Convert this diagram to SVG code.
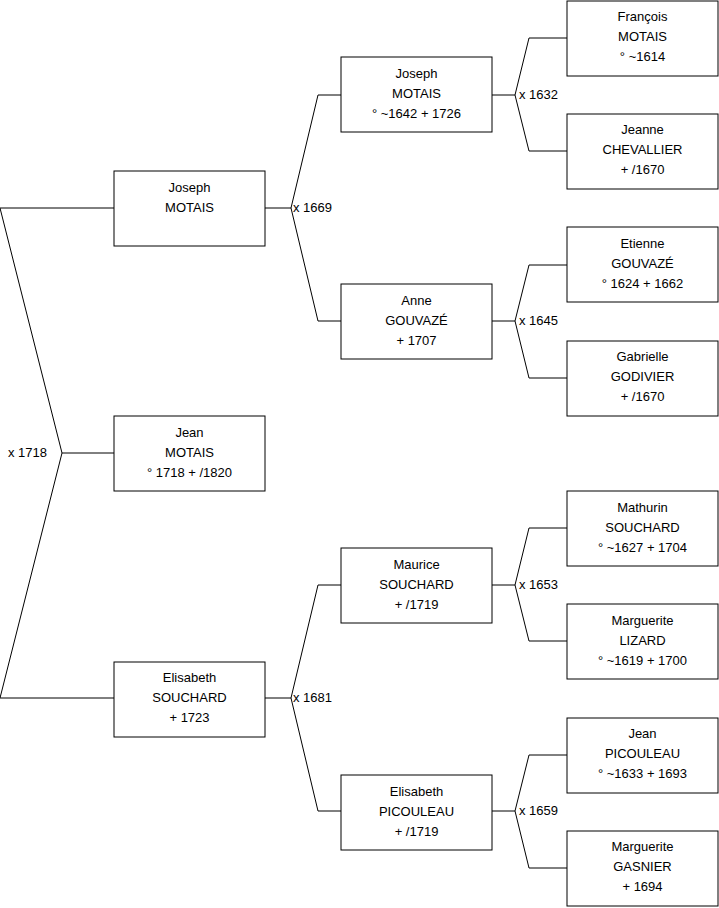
<svg xmlns="http://www.w3.org/2000/svg" width="719" height="908" viewBox="0 0 719 908">
<style>
.box{fill:#fff;stroke:#000;stroke-width:1}
.t{font-family:"Liberation Sans",Arial,sans-serif;font-size:13px;fill:#000;text-anchor:middle}
.l{font-family:"Liberation Sans",Arial,sans-serif;font-size:13px;fill:#000}
.c{fill:none;stroke:#000;stroke-width:1}
</style>
<rect width="719" height="908" fill="#fff"/>
<g id="connectors">
<polyline class="c" points="114,208 0,208 62,453 0,698 114,698"/>
<line class="c" x1="62" y1="453" x2="114" y2="453"/>
<text class="l" x="47" y="457" text-anchor="end">x 1718</text>
<polyline class="c" points="341,95 318,95 291,208 318,321 341,321"/>
<line class="c" x1="265" y1="208" x2="291" y2="208"/>
<text class="l" x="293" y="212">x 1669</text>
<polyline class="c" points="341,585 318,585 291,698 318,811 341,811"/>
<line class="c" x1="265" y1="698" x2="291" y2="698"/>
<text class="l" x="293" y="702">x 1681</text>
<polyline class="c" points="567,38 529,38 515,95 529,151 567,151"/>
<line class="c" x1="492" y1="95" x2="515" y2="95"/>
<text class="l" x="519" y="99">x 1632</text>
<polyline class="c" points="567,265 529,265 515,321 529,378 567,378"/>
<line class="c" x1="492" y1="321" x2="515" y2="321"/>
<text class="l" x="519" y="325">x 1645</text>
<polyline class="c" points="567,528 529,528 515,585 529,641 567,641"/>
<line class="c" x1="492" y1="585" x2="515" y2="585"/>
<text class="l" x="519" y="589">x 1653</text>
<polyline class="c" points="567,755 529,755 515,811 529,868 567,868"/>
<line class="c" x1="492" y1="811" x2="515" y2="811"/>
<text class="l" x="519" y="815">x 1659</text>
</g>
<g id="n1"><rect class="box" x="114" y="171" width="151" height="75"/><text class="t" x="189.5" y="192">Joseph</text><text class="t" x="189.5" y="212">MOTAIS</text></g>
<g id="n2"><rect class="box" x="114" y="416" width="151" height="75"/><text class="t" x="189.5" y="437">Jean</text><text class="t" x="189.5" y="457">MOTAIS</text><text class="t" x="189.5" y="477">° 1718 + /1820</text></g>
<g id="n3"><rect class="box" x="114" y="662" width="151" height="75"/><text class="t" x="189.5" y="682">Elisabeth</text><text class="t" x="189.5" y="702">SOUCHARD</text><text class="t" x="189.5" y="722">+ 1723</text></g>
<g id="n4"><rect class="box" x="341" y="57" width="151" height="75"/><text class="t" x="416.5" y="78">Joseph</text><text class="t" x="416.5" y="98">MOTAIS</text><text class="t" x="416.5" y="118">° ~1642 + 1726</text></g>
<g id="n5"><rect class="box" x="341" y="284" width="151" height="75"/><text class="t" x="416.5" y="305">Anne</text><text class="t" x="416.5" y="325">GOUVAZÉ</text><text class="t" x="416.5" y="345">+ 1707</text></g>
<g id="n6"><rect class="box" x="341" y="548" width="151" height="75"/><text class="t" x="416.5" y="569">Maurice</text><text class="t" x="416.5" y="589">SOUCHARD</text><text class="t" x="416.5" y="609">+ /1719</text></g>
<g id="n7"><rect class="box" x="341" y="775" width="151" height="75"/><text class="t" x="416.5" y="796">Elisabeth</text><text class="t" x="416.5" y="816">PICOULEAU</text><text class="t" x="416.5" y="836">+ /1719</text></g>
<g id="n8"><rect class="box" x="567" y="1" width="151" height="75"/><text class="t" x="642.5" y="21">François</text><text class="t" x="642.5" y="41">MOTAIS</text><text class="t" x="642.5" y="61">° ~1614</text></g>
<g id="n9"><rect class="box" x="567" y="114" width="151" height="75"/><text class="t" x="642.5" y="134">Jeanne</text><text class="t" x="642.5" y="154">CHEVALLIER</text><text class="t" x="642.5" y="174">+ /1670</text></g>
<g id="n10"><rect class="box" x="567" y="227" width="151" height="75"/><text class="t" x="642.5" y="248">Etienne</text><text class="t" x="642.5" y="268">GOUVAZÉ</text><text class="t" x="642.5" y="288">° 1624 + 1662</text></g>
<g id="n11"><rect class="box" x="567" y="341" width="151" height="75"/><text class="t" x="642.5" y="361">Gabrielle</text><text class="t" x="642.5" y="381">GODIVIER</text><text class="t" x="642.5" y="401">+ /1670</text></g>
<g id="n12"><rect class="box" x="567" y="491" width="151" height="75"/><text class="t" x="642.5" y="512">Mathurin</text><text class="t" x="642.5" y="532">SOUCHARD</text><text class="t" x="642.5" y="552">° ~1627 + 1704</text></g>
<g id="n13"><rect class="box" x="567" y="604" width="151" height="75"/><text class="t" x="642.5" y="625">Marguerite</text><text class="t" x="642.5" y="645">LIZARD</text><text class="t" x="642.5" y="665">° ~1619 + 1700</text></g>
<g id="n14"><rect class="box" x="567" y="718" width="151" height="75"/><text class="t" x="642.5" y="738">Jean</text><text class="t" x="642.5" y="758">PICOULEAU</text><text class="t" x="642.5" y="778">° ~1633 + 1693</text></g>
<g id="n15"><rect class="box" x="567" y="831" width="151" height="75"/><text class="t" x="642.5" y="851">Marguerite</text><text class="t" x="642.5" y="871">GASNIER</text><text class="t" x="642.5" y="891">+ 1694</text></g>
</svg>
